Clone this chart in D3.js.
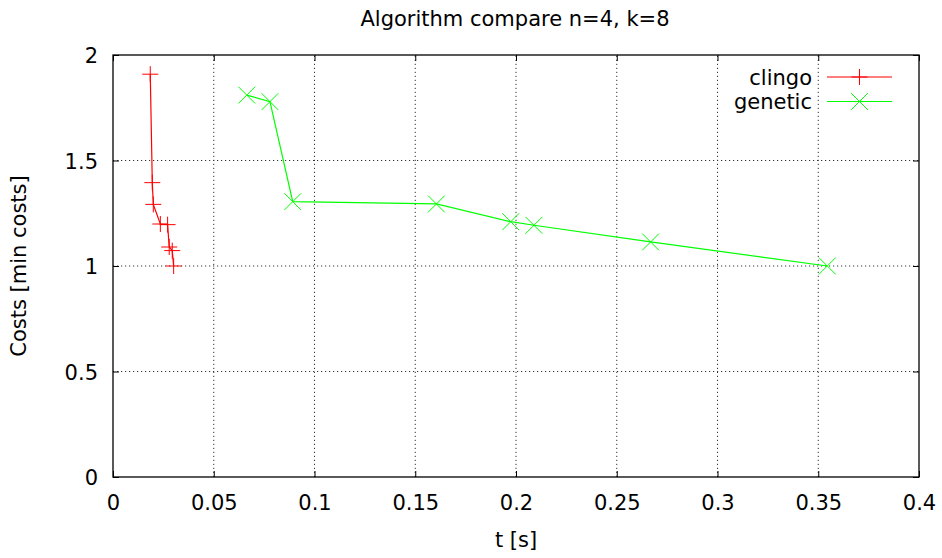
<!DOCTYPE html>
<html>
<head>
<meta charset="utf-8">
<script src="https://cdn.jsdelivr.net/npm/d3@7"></script>
<style>
  html, body { margin: 0; padding: 0; background: #fff; }
  svg { display: block; font-family: "DejaVu Sans", sans-serif; }
</style>
</head>
<body>
<svg id="chart" width="942" height="558"></svg>
<script>
const title = "Algorithm compare n=4, k=8";
const xLabel = "t [s]";
const yLabel = "Costs [min costs]";
const xTicks = [0, 0.05, 0.1, 0.15, 0.2, 0.25, 0.3, 0.35, 0.4];
const yTicks = [0, 0.5, 1, 1.5, 2];

const clingoT = [0.0185, 0.0195, 0.0200, 0.0235, 0.0271, 0.0279, 0.0294, 0.0301];
const clingoC = [1.909, 1.395, 1.292, 1.199, 1.196, 1.090, 1.073, 1.000];

const geneticT = [0.0664, 0.0779, 0.0892, 0.1605, 0.1974, 0.2089, 0.2668, 0.3545];
const geneticC = [1.810, 1.779, 1.305, 1.294, 1.210, 1.193, 1.114, 1.000];

const seriesNames = ["clingo", "genetic"];
const seriesColors = ["#ff0000", "#00ff00"];

const svg = d3.select("#chart");
const margin = {left: 113, right: 23, top: 55, bottom: 81};
const W = 942, H = 558;
const x = d3.scaleLinear().domain([0, 0.4]).range([margin.left, W - margin.right]);
const y = d3.scaleLinear().domain([0, 2]).range([H - margin.bottom, margin.top]);
const fs = 21;

// grid
const grid = svg.append("g");
grid.selectAll("line.vx").data(xTicks.slice(1, -1)).enter().append("line")
  .attr("x1", d => x(d)).attr("x2", d => x(d))
  .attr("y1", y(0)).attr("y2", y(2))
  .attr("stroke", "#333").attr("stroke-width", 1).attr("stroke-dasharray", "1.2,2.8");
grid.selectAll("line.hy").data(yTicks.slice(1, -1)).enter().append("line")
  .attr("y1", d => y(d)).attr("y2", d => y(d))
  .attr("x1", x(0)).attr("x2", x(0.4))
  .attr("stroke", "#333").attr("stroke-width", 1).attr("stroke-dasharray", "1.2,2.8");

// axes with inward ticks (mirror)
const tl = 6;
const fmt = d => d3.format("~g")(d);
const xAxB = svg.append("g").attr("transform", `translate(0,${y(0)})`)
  .call(d3.axisBottom(x).tickValues(xTicks).tickSizeInner(-tl).tickSizeOuter(0).tickFormat(fmt).tickPadding(15));
const xAxT = svg.append("g").attr("transform", `translate(0,${y(2)})`)
  .call(d3.axisTop(x).tickValues(xTicks).tickSizeInner(-tl).tickSizeOuter(0).tickFormat(""));
const yAxL = svg.append("g").attr("transform", `translate(${x(0)},0)`)
  .call(d3.axisLeft(y).tickValues(yTicks).tickSizeInner(-tl).tickSizeOuter(0).tickFormat(fmt).tickPadding(15));
const yAxR = svg.append("g").attr("transform", `translate(${x(0.4)},0)`)
  .call(d3.axisRight(y).tickValues(yTicks).tickSizeInner(-tl).tickSizeOuter(0).tickFormat(""));
[xAxB, xAxT, yAxL, yAxR].forEach(g => {
  g.select(".domain").remove();
  g.selectAll(".tick line").attr("stroke", "#000");
  g.selectAll("text").attr("font-size", fs).attr("font-family", "DejaVu Sans").attr("fill", "#000");
});
xAxB.selectAll("text").attr("dy", "0.85em");
yAxL.selectAll("text").attr("dy", "0.36em");

// border
svg.append("rect").attr("x", x(0)).attr("y", y(2))
  .attr("width", x(0.4) - x(0)).attr("height", y(0) - y(2))
  .attr("fill", "none").attr("stroke", "#000").attr("stroke-width", 1.3);

// title and labels
svg.append("text").attr("x", 515).attr("y", 26).attr("text-anchor", "middle")
  .attr("font-size", fs).text(title);
svg.append("text").attr("x", (x(0) + x(0.4)) / 2).attr("y", 547).attr("text-anchor", "middle")
  .attr("font-size", fs).text(xLabel);
svg.append("text").attr("transform", `translate(26,${(y(0) + y(2)) / 2}) rotate(-90)`)
  .attr("text-anchor", "middle").attr("font-size", fs).text(yLabel);

const line = d3.line().x(d => x(d[0])).y(d => y(d[1]));
const ms = 8;
function plus(g, cx, cy, color) {
  g.append("path").attr("d", `M${cx - ms},${cy}H${cx + ms}M${cx},${cy - ms}V${cy + ms}`)
    .attr("stroke", color).attr("stroke-width", 1).attr("fill", "none");
}
function cross(g, cx, cy, color) {
  const s = ms * 1.05;
  g.append("path").attr("d", `M${cx - s},${cy - s}L${cx + s},${cy + s}M${cx - s},${cy + s}L${cx + s},${cy - s}`)
    .attr("stroke", color).attr("stroke-width", 1).attr("fill", "none");
}

const series = [
  {name: seriesNames[0], color: seriesColors[0], pts: d3.zip(clingoT, clingoC), marker: plus},
  {name: seriesNames[1], color: seriesColors[1], pts: d3.zip(geneticT, geneticC), marker: cross}
];

const plotG = svg.append("g");
series.forEach(s => {
  plotG.append("path").attr("d", line(s.pts)).attr("fill", "none")
    .attr("stroke", s.color).attr("stroke-width", 1.2);
  s.pts.forEach(p => s.marker(plotG, x(p[0]), y(p[1]), s.color));
});

// legend
const legY = [77, 101.5];
series.forEach((s, i) => {
  svg.append("text").attr("x", 812).attr("y", legY[i]).attr("dy", "0.36em")
    .attr("text-anchor", "end").attr("font-size", fs).text(s.name);
  svg.append("line").attr("x1", 827).attr("x2", 892).attr("y1", legY[i]).attr("y2", legY[i])
    .attr("stroke", s.color).attr("stroke-width", 1.2);
  s.marker(svg, 859.5, legY[i], s.color);
});
</script>
</body>
</html>
